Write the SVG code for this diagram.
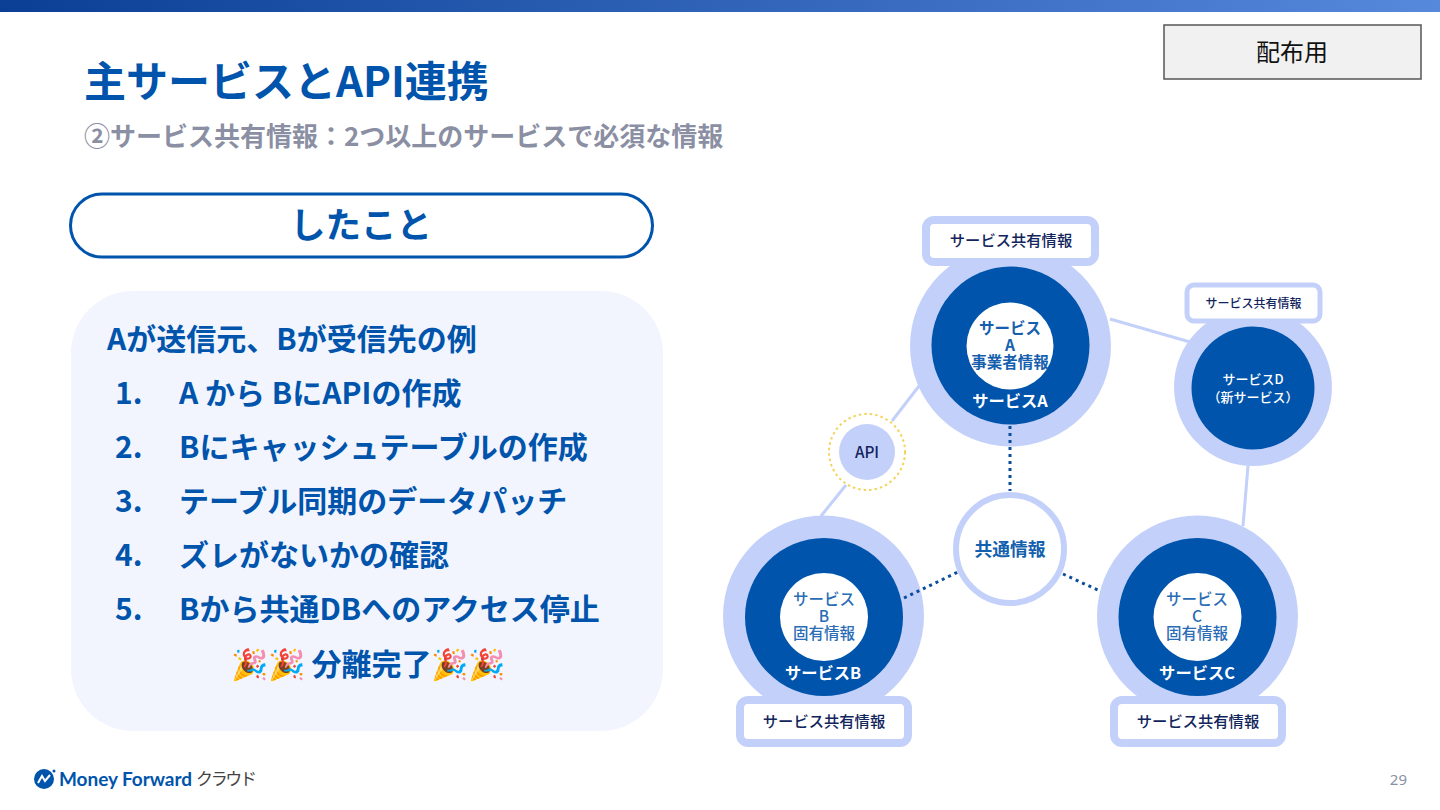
<svg xmlns="http://www.w3.org/2000/svg" width="1440" height="810" viewBox="0 0 1440 810">
<style>
text{font-family:"Noto Sans CJK JP","Noto Sans",sans-serif;}
.b{font-weight:700;}
.mid{text-anchor:middle;}
.list{font-size:30px;font-weight:700;fill:#0054ac;}
.halo{fill:#c3d1fa;}
.core{fill:#0054ac;}
.hole{fill:#fff;}
.tag{fill:#fff;stroke:#c3d1fa;stroke-width:8;}
.tagt{font-size:15.3px;font-weight:500;fill:#12245c;text-anchor:middle;}
.in{font-size:15.5px;font-weight:500;fill:#2a6cb5;text-anchor:middle;}
.inb{font-size:15.5px;font-weight:700;fill:#1560ae;text-anchor:middle;}
.nm{font-size:16.3px;font-weight:700;fill:#fff;text-anchor:middle;}
.nms{font-size:13px;font-weight:500;fill:#fff;text-anchor:middle;}
.solid{fill:none;stroke:#c3d1fa;stroke-width:3;}
.dot{fill:none;stroke:#0b4c9c;stroke-width:3;stroke-dasharray:3 4;}
</style>
<defs><linearGradient id="g" x1="0" x2="1" y1="0" y2="0"><stop offset="0" stop-color="#0a3f95"/><stop offset="1" stop-color="#5688dc"/></linearGradient></defs>
<rect width="1440" height="810" fill="#fff"/>
<rect width="1440" height="12" fill="url(#g)"/>
<g id="stamp"><rect x="1164" y="25" width="257" height="54" fill="#f1f1f1" stroke="#555" stroke-width="1.5"/><text x="1292" y="61" class="mid" font-size="24" fill="#111">配布用</text></g>
<text x="84" y="97" class="b" font-size="42" fill="#0054ac">主サービスとAPI連携</text>
<text x="84" y="146" class="b" font-size="26" fill="#8b8fa3">②サービス共有情報：2つ以上のサービスで必須な情報</text>
<g id="heading"><rect x="70.500" y="194" width="582" height="63" rx="31.500" fill="#fff" stroke="#0054ac" stroke-width="3"/><text x="361" y="238" class="b mid" font-size="35.500" fill="#0054ac">したこと</text></g>
<g id="panel"><rect x="71" y="291" width="592" height="440" rx="62" fill="#f2f5fe"/>
<text x="107" y="350" class="list">Aが送信元、Bが受信先の例</text>
<text x="115" y="404" class="list">1.</text><text x="179" y="404" class="list">A から BにAPIの作成</text>
<text x="115" y="458" class="list">2.</text><text x="179" y="458" class="list">Bにキャッシュテーブルの作成</text>
<text x="115" y="512" class="list">3.</text><text x="179" y="512" class="list">テーブル同期のデータパッチ</text>
<text x="115" y="566" class="list">4.</text><text x="179" y="566" class="list">ズレがないかの確認</text>
<text x="115" y="620" class="list">5.</text><text x="179" y="620" class="list">Bから共通DBへのアクセス停止</text>
<text x="368" y="675" class="list mid">🎉🎉 分離完了🎉🎉</text></g>
<g id="api"><circle cx="867" cy="452" r="38" fill="#fff" stroke="#f3d35a" stroke-width="2" stroke-dasharray="2.500 3"/><circle cx="867" cy="452" r="28" class="halo"/><text x="867" y="458" class="tagt">API</text></g>
<g id="common"><circle cx="1010" cy="549" r="54" fill="#fff" stroke="#c3d1fa" stroke-width="6"/><text x="1010" y="556" class="inb" style="font-size:17.800px">共通情報</text></g>
<g id="serviceA"><circle cx="1010.500" cy="346" r="100.500" class="halo"/><circle cx="1010.500" cy="345.500" r="79" class="core"/><circle cx="1010" cy="346" r="43.500" class="hole"/>
<text class="inb"><tspan x="1010" y="334">サービス</tspan><tspan x="1010" y="351">A</tspan><tspan x="1010" y="368">事業者情報</tspan></text><text x="1010" y="407" class="nm">サービスA</text>
<rect x="926" y="220" width="169" height="42" rx="8" class="tag"/><text x="1011" y="246" class="tagt">サービス共有情報</text></g>
<g id="serviceD"><circle cx="1253" cy="387" r="79" class="halo"/><circle cx="1253" cy="388" r="61.500" class="core"/>
<text class="nms"><tspan x="1253" y="384">サービスD</tspan><tspan x="1253" y="402">（新サービス）</tspan></text>
<rect x="1187" y="285" width="133" height="36" rx="7" class="tag" style="stroke-width:5"/><text x="1253.500" y="308" class="tagt" style="font-size:12px">サービス共有情報</text></g>
<g id="serviceB"><circle cx="823.500" cy="616" r="100.500" class="halo"/><circle cx="824" cy="617" r="79" class="core"/><circle cx="824" cy="617" r="44" class="hole"/>
<text class="in"><tspan x="824" y="605">サービス</tspan><tspan x="824" y="622">B</tspan><tspan x="824" y="639">固有情報</tspan></text><text x="823" y="679" class="nm">サービスB</text>
<rect x="740" y="700" width="168" height="43" rx="8" class="tag"/><text x="824" y="727" class="tagt">サービス共有情報</text></g>
<g id="serviceC"><circle cx="1197.500" cy="616" r="100.500" class="halo"/><circle cx="1197.500" cy="617" r="79" class="core"/><circle cx="1197.500" cy="617" r="44" class="hole"/>
<text class="in"><tspan x="1197" y="605">サービス</tspan><tspan x="1197" y="622">C</tspan><tspan x="1197" y="639">固有情報</tspan></text><text x="1197" y="679" class="nm">サービスC</text>
<rect x="1114" y="700" width="168" height="43" rx="8" class="tag"/><text x="1198" y="727" class="tagt">サービス共有情報</text></g>
<g id="connectors">
<path class="solid" d="M1110 319L1190 342M919 386L892 421M846 485L821 516M1248 466L1243 526"/>
<path class="dot" d="M1010 426V491M904 598L958 572M1063 574L1100 591"/>
</g>
<g id="footer"><circle cx="44" cy="779" r="10" fill="#0054ac"/><path d="M38 783L42 776L45 781L50 775" fill="none" stroke="#fff" stroke-width="2"/><circle cx="54" cy="771" r="1.500" fill="#0054ac"/>
<text x="59" y="786" style="font-family:Lato,sans-serif" font-size="19" font-weight="700" fill="#0054ac" textLength="133">Money Forward</text>
<text x="196" y="785" font-size="17" fill="#444" textLength="61">クラウド</text>
<text x="1407" y="785" font-size="15" fill="#8b8fa3" text-anchor="end" style="font-family:'Noto Sans',sans-serif">29</text></g>
</svg>
